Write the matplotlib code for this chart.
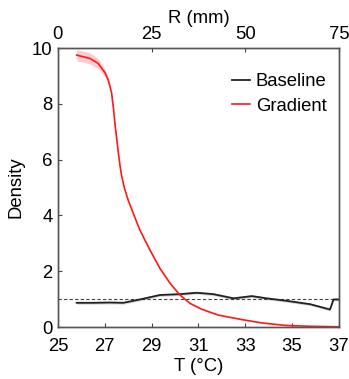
import numpy as np
import matplotlib
matplotlib.use('Agg')
import matplotlib.pyplot as plt

plt.rcParams['font.family'] = ['Liberation Sans', 'DejaVu Sans']

# gradient curve (density vs temperature)
t_grad = [25.8, 26.37, 26.72, 27.01, 27.15, 27.29, 27.37, 27.44, 27.58, 27.65, 27.72,
          27.85, 28.0, 28.22, 28.5, 28.93, 29.36, 29.79, 30.21, 30.64, 31.14, 31.85,
          32.85, 33.7, 34.7, 35.7, 37.0]
grad = [9.75, 9.63, 9.45, 9.12, 8.85, 8.4, 7.85, 7.25, 6.25, 5.8, 5.42,
        4.95, 4.55, 4.07, 3.48, 2.76, 2.1, 1.57, 1.15, 0.85, 0.64, 0.43,
        0.27, 0.15, 0.06, 0.03, 0.01]
grad_err = [0.2, 0.2, 0.18, 0.13, 0.1, 0.08, 0.07, 0.06, 0.05, 0.05, 0.04,
            0.04, 0.03, 0.03, 0.03, 0.03, 0.03, 0.02, 0.02, 0.02, 0.02, 0.01,
            0.01, 0.01, 0.01, 0.01, 0.01]

# baseline curve
t_base = [25.8, 26.5, 27.2, 27.79, 28.5, 29.36, 30.2, 30.93, 31.64, 32.5, 33.28,
          33.92, 34.77, 35.77, 36.62, 36.77, 37.0]
base = [0.87, 0.87, 0.88, 0.87, 0.99, 1.15, 1.18, 1.23, 1.18, 1.03, 1.11,
        1.03, 0.94, 0.82, 0.63, 0.99, 0.99]
base_err = [0.05] * len(t_base)

fig = plt.figure(figsize=(3.49, 3.79), dpi=100)
ax = fig.add_axes([0.166, 0.137, 0.805, 0.736])

ax.axhline(1, color='#444444', linestyle='--', linewidth=0.8, dashes=(3, 2))

ax.fill_between(t_base, np.array(base) - base_err, np.array(base) + base_err,
                color='#bbbbbb', alpha=0.6, linewidth=0)
ax.fill_between(t_grad, np.array(grad) - grad_err, np.array(grad) + grad_err,
                color='#ff9999', alpha=0.5, linewidth=0)
ax.plot(t_base, base, color='#222222', linewidth=1.3, label='Baseline')
ax.plot(t_grad, grad, color='#ff1a1a', linewidth=1.2, label='Gradient')

fs = 13.3
ax.set_xlim(25, 37)
ax.set_ylim(0, 10)
ax.set_xticks([25, 27, 29, 31, 33, 35, 37])
ax.set_yticks([0, 2, 4, 6, 8, 10])
ax.set_xlabel('T (°C)', fontsize=fs, labelpad=2)
ax.set_ylabel('Density', fontsize=fs, labelpad=5)
ax.tick_params(direction='in', length=3, labelsize=fs, color='#444444')
ax.tick_params(axis='x', pad=8)
ax.tick_params(axis='y', pad=4)

ax2 = ax.twiny()
ax2.set_xlim(0, 75)
ax2.set_xticks([0, 25, 50, 75])
ax2.set_xlabel('R (mm)', fontsize=fs, labelpad=2)
ax2.tick_params(direction='in', length=3, labelsize=fs, color='#444444', pad=4)

for a in (ax, ax2):
    for s in a.spines.values():
        s.set_color('#555555')
        s.set_linewidth(1.0)

leg = ax.legend(loc='upper right', bbox_to_anchor=(0.995, 0.95), frameon=False,
                fontsize=fs, handlelength=1.0, handletextpad=0.3,
                labelspacing=0.4, borderaxespad=0.2)

fig.savefig('out.png', dpi=100)
